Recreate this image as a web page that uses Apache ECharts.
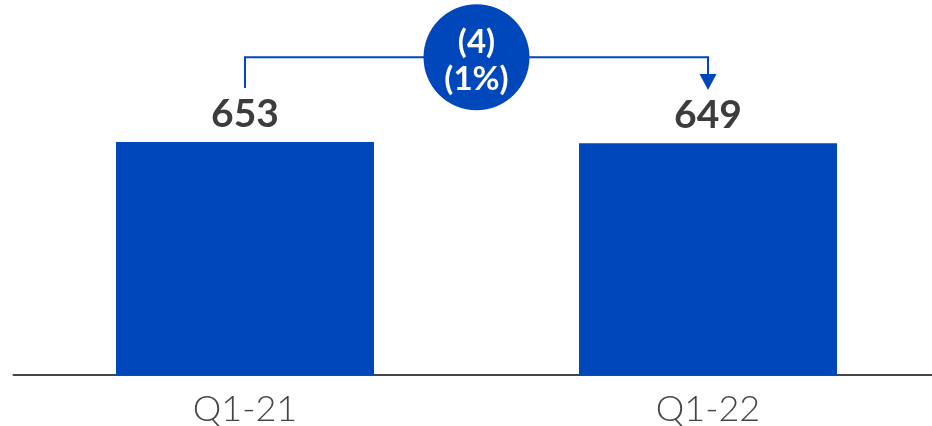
<!DOCTYPE html>
<html>
<head>
<meta charset="utf-8">
<style>
  html, body { margin: 0; padding: 0; background: #ffffff; }
  #chart { width: 932px; height: 426px; }
</style>
<script src="https://cdn.jsdelivr.net/npm/echarts@6/dist/echarts.min.js"></script>
</head>
<body>
<div id="chart"></div>
<script>
// Quarterly totals
const categories = ['Q1-21', 'Q1-22'];
const values = [653, 649];

// Year-over-year change, shown in the bubble between the bars
const change = values[1] - values[0];
const changePct = Math.round(Math.abs(change) / values[0] * 100);
const wrapNeg = (neg, s) => (neg ? '(' + s + ')' : s);
const changeText = wrapNeg(change < 0, String(Math.abs(change)));
const changePctText = wrapNeg(change < 0, changePct + '%');

const BLUE = '#0047BB';
const DARK = '#3c3c3c';

const chart = echarts.init(document.getElementById('chart'), null, { renderer: 'canvas' });

chart.setOption({
  animation: false,
  grid: {
    left: 13.5, width: 926, top: 18, bottom: 51,
    containLabel: false,
    outerBoundsMode: 'none'
  },
  xAxis: {
    type: 'category',
    data: categories,
    axisLine: { show: true, lineStyle: { color: '#454545', width: 2 } },
    axisTick: { show: false },
    axisLabel: {
      color: '#454545',
      fontFamily: 'Lato',
      fontWeight: 300,
      fontSize: 36,
      margin: 16
    }
  },
  yAxis: {
    type: 'value',
    min: 0,
    max: 1000,
    show: false,
    splitLine: { show: false }
  },
  series: [
    {
      type: 'bar',
      data: values,
      barWidth: 258,
      itemStyle: { color: BLUE },
      label: {
        show: true,
        position: 'top',
        distance: 8,
        color: DARK,
        fontFamily: 'Lato',
        fontWeight: 'bold',
        fontSize: 39
      },
      z: 2
    },
    {
      // Bracket arrow from the first bar to the second, with the change bubble
      type: 'custom',
      clip: false,
      data: [[0, 1]],
      renderItem: function (params, api) {
        const levelTop = 890;    // horizontal run of the bracket
        const levelStart = 804;  // lower end of the left leg
        const levelTip = 798;    // arrow tip on the right
        const a0 = api.coord([api.value(0), levelStart]);
        const aTop = api.coord([api.value(0), levelTop]);
        const bTop = api.coord([api.value(1), levelTop]);
        const bTip = api.coord([api.value(1), levelTip]);
        const headLen = 16, headHalf = 8.5;
        const cx = (aTop[0] + bTop[0]) / 2;
        const cy = aTop[1];
        const bubbleText = {
          fill: '#ffffff',
          fontFamily: 'Lato',
          fontWeight: 'bold',
          fontSize: 33,
          align: 'center',
          verticalAlign: 'middle'
        };
        return {
          type: 'group',
          children: [
            {
              type: 'polyline',
              shape: { points: [a0, aTop, bTop, [bTip[0], bTip[1] - headLen + 1]] },
              style: { stroke: BLUE, lineWidth: 2, fill: null }
            },
            {
              type: 'polygon',
              shape: { points: [
                [bTip[0] - headHalf, bTip[1] - headLen],
                [bTip[0] + headHalf, bTip[1] - headLen],
                [bTip[0], bTip[1]]
              ] },
              style: { fill: BLUE }
            },
            {
              type: 'circle',
              shape: { cx: cx, cy: cy, r: 53 },
              style: { fill: BLUE }
            },
            {
              type: 'text',
              x: cx, y: cy - 15,
              style: Object.assign({ text: changeText }, bubbleText)
            },
            {
              type: 'text',
              x: cx, y: cy + 22,
              style: Object.assign({ text: changePctText }, bubbleText)
            }
          ]
        };
      },
      z: 3
    }
  ]
});
</script>
</body>
</html>
